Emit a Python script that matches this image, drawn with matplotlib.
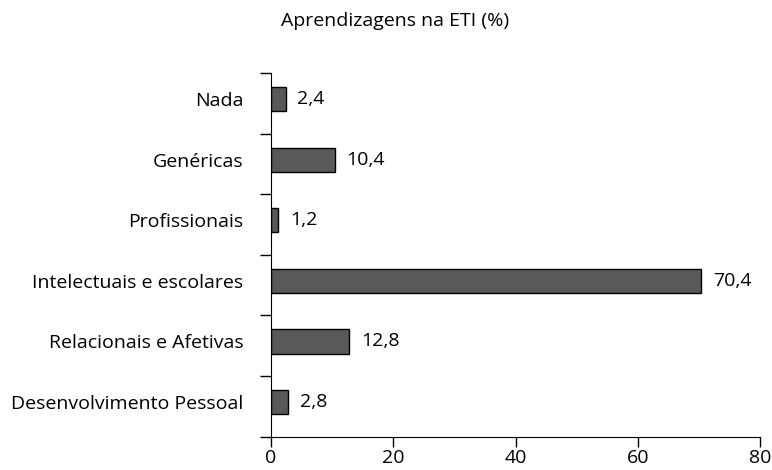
import matplotlib
matplotlib.use("Agg")
import matplotlib.pyplot as plt
import numpy as np

plt.rcParams['font.family'] = ['Open Sans', 'DejaVu Sans']

categories = ["Desenvolvimento Pessoal", "Relacionais e Afetivas", "Intelectuais e escolares",
              "Profissionais", "Genéricas", "Nada"]
values = [2.8, 12.8, 70.4, 1.2, 10.4, 2.4]
title = "Aprendizagens na ETI (%)"

fig = plt.figure(figsize=(7.72, 4.70), dpi=100)
ax = fig.add_axes([271 / 772, 1 - 436.5 / 470, 489 / 772, 363.5 / 470])

# bars sit a little above the middle of each category band
pos = np.arange(len(categories)) + 0.57
ax.barh(pos, values, height=0.4, color="#595959", edgecolor="black", linewidth=1)
for p, v in zip(pos, values):
    ax.text(v + 1.9, p, f"{v:.1f}".replace(".", ","), va="center", ha="left", fontsize=14)

ax.set_xlim(0, 80)
ax.set_ylim(0, len(categories))
ax.set_xticks([0, 20, 40, 60, 80])
ax.set_yticks(np.arange(len(categories) + 1))
ax.set_yticklabels([])
ax.set_yticks(pos, minor=True)
ax.set_yticklabels(categories, minor=True)
ax.tick_params(axis="y", which="minor", length=0, pad=20, labelsize=14)
ax.tick_params(axis="y", which="major", length=8, width=1)
ax.tick_params(axis="x", length=7, width=1, labelsize=14, pad=2)
for s in ["top", "right"]:
    ax.spines[s].set_visible(False)

fig.text(0.512, 0.955, title, ha="center", va="center", fontsize=14)

fig.savefig("out.png", dpi=100)
